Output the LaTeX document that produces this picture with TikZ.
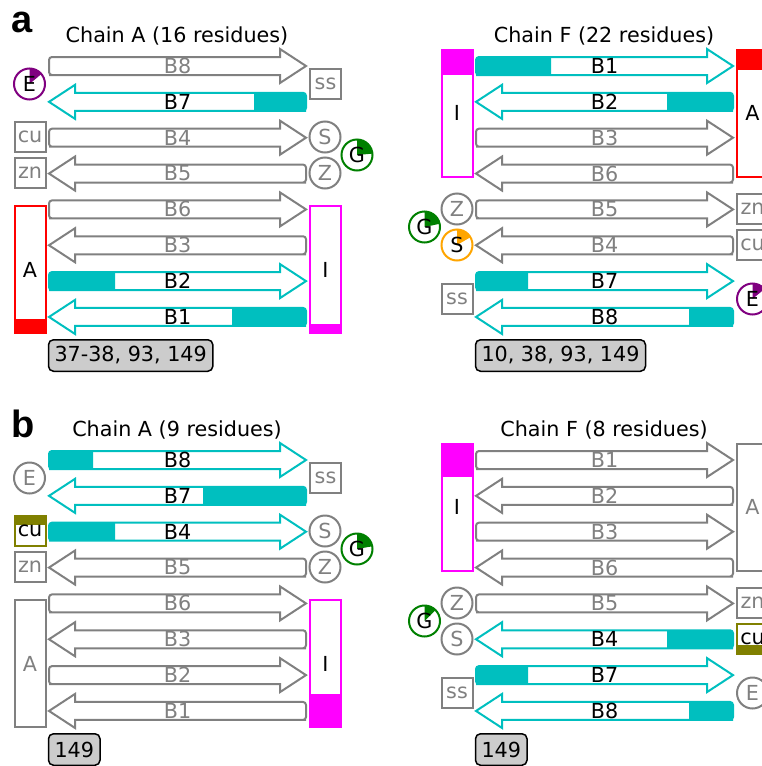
\documentclass[tikz,border=0pt]{standalone}
\usepackage{fontspec}
\setmainfont{DejaVu Sans}
\newfontfamily\panelfont{Liberation Sans}
\usepackage{tikz}
\usetikzlibrary{positioning}
\definecolor{sheetc}{rgb}{0,.75,.75}
\definecolor{ecol}{rgb}{.5,0,.5}
\definecolor{gcol}{rgb}{0,.5,0}
\definecolor{scol}{RGB}{255,165,0}
\definecolor{icol}{rgb}{1,0,1}
\definecolor{acol}{rgb}{1,0,0}
\definecolor{cucol}{rgb}{.5,.5,0}

\begin{document}
\begin{tikzpicture}[x=1pt, y=-1pt, every node/.style={font=\fontsize{20.7}{25}\selectfont, inner sep=0pt},
  strand/.style={line width=2pt},
  tag/.style={draw=gray, text=gray, line width=2pt, minimum width=31pt, minimum height=30pt},
  site/.style={circle, draw=gray, text=gray, line width=2pt, minimum size=31pt},
  bar/.style={draw=gray, text=gray, line width=2pt, minimum width=31pt, minimum height=127pt},
  pie/.style 2 args={draw=#1, text=black, path picture={\fill[#1] (path picture bounding box.center) -- ++(90:20pt) arc[start angle=90, end angle=#2, radius=20pt] -- cycle;}},
  topband/.style 2 args={draw=#1, text=black, path picture={\fill[#1] (path picture bounding box.north west) rectangle ([yshift=-#2pt]path picture bounding box.north east);}},
  botband/.style 2 args={draw=#1, text=black, path picture={\fill[#1] (path picture bounding box.south west) rectangle ([yshift=#2pt]path picture bounding box.south east);}},
  residues/.style={draw, fill=black!20, rounded corners=5pt, line width=1.5pt, inner xsep=6pt, minimum height=31.5pt, anchor=west},
  title/.style={anchor=base},
  panel/.style={anchor=base west, font=\panelfont\bfseries\fontsize{38}{40}\selectfont}]
  \useasboundingbox (0,0) rectangle (761,766);

  % strands of the four sheets
  \foreach \px/\py/\pn/\rows in {0/0/aA/{B8/0,B7/52,B4/0,B5/0,B6/0,B3/0,B2/66,B1/74},
      427/0/aF/{B1/75,B2/66,B3/0,B6/0,B5/0,B4/0,B7/52,B8/44},
      0/394/bA/{B8/44,B7/103,B4/66,B5/0,B6/0,B3/0,B2/0,B1/0},
      427/394/bF/{B1/0,B2/0,B3/0,B6/0,B5/0,B4/66,B7/52,B8/44}}{
    \begin{scope}[shift={(\px,\py)}, name prefix=\pn-]
      \foreach \lab/\len [count=\i from 0] in \rows {
        \pgfmathsetmacro\y{66+35.85*\i}
        \ifodd\i \def\xt{306}\def\sg{-1}\else \def\xt{49}\def\sg{1}\fi
        \ifnum\len>0 \def\stc{sheetc}\def\txc{black}\else \def\stc{gray}\def\txc{gray}\fi
        \pgfmathsetmacro\xa{\sg*3+\xt}
        \pgfmathsetmacro\xh{\sg*231+\xt}
        \pgfmathsetmacro\xp{\sg*257+\xt}
        \pgfmathsetmacro\xf{\sg*\len+\xt}
        \ifnum\len>0
          \fill[\stc] (\xf,\y) -- (\xf,\y-9) -- (\xa,\y-9) [rounded corners=3pt] -- (\xt,\y-9) -- (\xt,\y+9) -- (\xa,\y+9) [sharp corners] -- (\xf,\y+9) -- cycle;
        \fi
        \draw[strand, draw=\stc] (\xh,\y-9) -- (\xa,\y-9) [rounded corners=3pt] -- (\xt,\y-9) -- (\xt,\y+9) -- (\xa,\y+9) [sharp corners] -- (\xh,\y+9) -- (\xh,\y+17) -- (\xp,\y) -- (\xh,\y-17) -- cycle;
        \node[text=\txc] (\lab) at (177.5,\y) {\lab};
      }
    \end{scope}
  }

  % panel a, chain A
  \node[panel] (pa) at (11,32) {a};
  \node[title] (aA-title) at (177,42) {Chain A (16 residues)};
  \node[site, pie={ecol}{40}] (aA-E) at (29.5,84) {E};
  \node[tag] (aA-ss) at (325.5,84) {ss};
  \node[tag] (aA-cu) at (30,137) {cu};
  \node[tag, below=4pt of aA-cu] (aA-zn) {zn};
  \node[site] (aA-S) at (325,137) {S};
  \node[site, below=3pt of aA-S] (aA-Z) {Z};
  \node[site, pie={gcol}{5}] (aA-G) at (357,155) {G};
  \node[bar, botband={acol}{14}] (aA-A) at (30,269.5) {A};
  \node[bar, botband={icol}{9}] (aA-I) at (325.5,269.5) {I};
  \node[residues] (aA-res) at (47.75,355.5) {37-38, 93, 149};

  % panel a, chain F
  \node[title] (aF-title) at (604,42) {Chain F (22 residues)};
  \node[bar, topband={icol}{25}] (aF-I) at (457,113) {I};
  \node[bar, topband={acol}{20}] (aF-A) at (752.5,113) {A};
  \node[site] (aF-Z) at (457,209) {Z};
  \node[site, pie={scol}{30}, below=3pt of aF-Z] (aF-S) {S};
  \node[site, pie={gcol}{12}] (aF-G) at (424.5,227) {G};
  \node[tag] (aF-zn) at (752.5,209) {zn};
  \node[tag, below=4pt of aF-zn] (aF-cu) {cu};
  \node[tag] (aF-ss) at (457,299) {ss};
  \node[site, pie={ecol}{40}] (aF-E) at (752.5,299) {E};
  \node[residues] (aF-res) at (474.75,355.5) {10, 38, 93, 149};

  % panel b, chain A
  \node[panel] (pb) at (11,437) {b};
  \node[title] (bA-title) at (177,436) {Chain A (9 residues)};
  \node[site] (bA-E) at (29.5,478) {E};
  \node[tag] (bA-ss) at (325.5,478) {ss};
  \node[tag, topband={cucol}{9}] (bA-cu) at (30,531) {cu};
  \node[tag, below=4pt of bA-cu] (bA-zn) {zn};
  \node[site] (bA-S) at (325,531) {S};
  \node[site, below=3pt of bA-S] (bA-Z) {Z};
  \node[site, pie={gcol}{10}] (bA-G) at (357,549) {G};
  \node[bar] (bA-A) at (30,663.5) {A};
  \node[bar, botband={icol}{33}] (bA-I) at (325.5,663.5) {I};
  \node[residues] (bA-res) at (47.75,749.5) {149};

  % panel b, chain F
  \node[title] (bF-title) at (604,436) {Chain F (8 residues)};
  \node[bar, topband={icol}{33}] (bF-I) at (457,507) {I};
  \node[bar] (bF-A) at (752.5,507) {A};
  \node[site] (bF-Z) at (457,603) {Z};
  \node[site, below=3pt of bF-Z] (bF-S) {S};
  \node[site, pie={gcol}{45}] (bF-G) at (424.5,621) {G};
  \node[tag] (bF-zn) at (752.5,603) {zn};
  \node[tag, botband={cucol}{9}, below=4pt of bF-zn] (bF-cu) {cu};
  \node[tag] (bF-ss) at (457,693) {ss};
  \node[site] (bF-E) at (752.5,693) {E};
  \node[residues] (bF-res) at (474.75,749.5) {149};
\end{tikzpicture}
\end{document}
